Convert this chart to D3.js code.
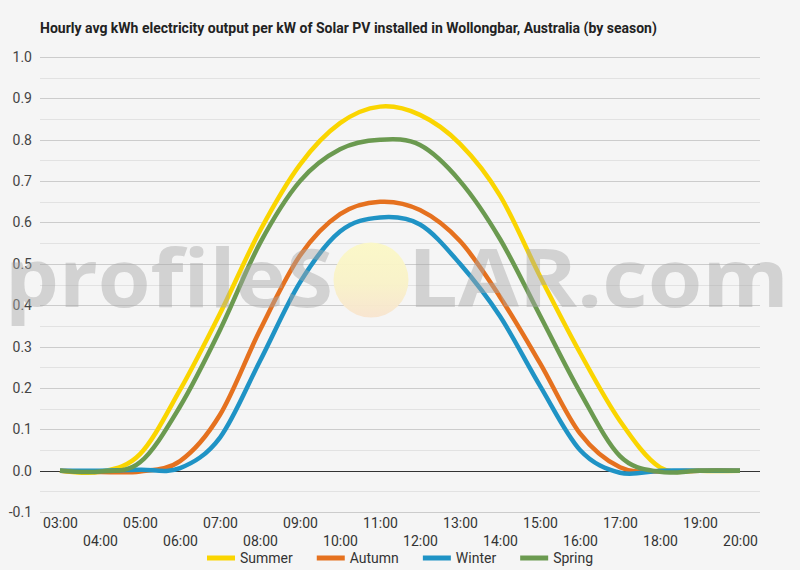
<!DOCTYPE html>
<html><head><meta charset="utf-8">
<script src="https://cdn.jsdelivr.net/npm/d3@7"></script>
<style>
body{margin:0;background:#f5f5f5;}
svg{display:block;font-family:Roboto,"Noto Sans",sans-serif;}
</style>
</head><body>
<svg id="chart" width="800" height="570"></svg>
<script>
const hours = ["03:00","04:00","05:00","06:00","07:00","08:00","09:00","10:00","11:00","12:00","13:00","14:00","15:00","16:00","17:00","18:00","19:00","20:00"];
const seriesNames = ["Summer","Autumn","Winter","Spring"];
const seriesColors = ["#FAD500","#E5711F","#1F93C5","#6B9A50"];
const summer = [0, -0.003, 0.04, 0.195, 0.38, 0.58, 0.74, 0.84, 0.88, 0.86, 0.79, 0.665, 0.47, 0.285, 0.12, 0.008, 0, 0];
const autumn = [0, -0.003, -0.002, 0.023, 0.135, 0.34, 0.52, 0.62, 0.65, 0.63, 0.555, 0.42, 0.26, 0.09, 0.008, -0.002, 0, 0];
const winter = [0, 0, 0.002, 0.006, 0.08, 0.265, 0.455, 0.578, 0.612, 0.595, 0.50, 0.373, 0.205, 0.05, -0.005, 0, 0, 0];
const spring = [0, -0.002, 0.02, 0.155, 0.34, 0.55, 0.70, 0.777, 0.80, 0.787, 0.70, 0.56, 0.375, 0.19, 0.035, -0.003, 0, 0];
const yTicks = [-0.1, 0, 0.1, 0.2, 0.3, 0.4, 0.5, 0.6, 0.7, 0.8, 0.9, 1.0];
const titleText = "Hourly avg kWh electricity output per kW of Solar PV installed in Wollongbar, Australia (by season)";

const seriesValues = [summer, autumn, winter, spring];

const svg = d3.select("#chart");
svg.append("rect").attr("width",800).attr("height",570).attr("fill","#f5f5f5");

const plotLeft = 40, plotRight = 760, plotTop = 57, plotBottom = 512;
const x = d3.scalePoint().domain(hours).range([plotLeft, plotRight]).padding(0.5);
const y = d3.scaleLinear().domain([-0.1, 1.0]).range([plotBottom, plotTop]);

// title
svg.append("text").attr("x", 40).attr("y", 33)
  .attr("font-size", 14).attr("font-weight", "bold").attr("fill", "#222")
  .text(titleText);

// minor gridlines
const minor = d3.range(-0.05, 1.0, 0.1);
svg.append("g").selectAll("line").data(minor).join("line")
  .attr("x1", plotLeft).attr("x2", plotRight)
  .attr("y1", d => Math.round(y(d)) + 0.5).attr("y2", d => Math.round(y(d)) + 0.5)
  .attr("stroke", "#e2e2e2").attr("stroke-width", 1);
// major gridlines
svg.append("g").selectAll("line").data(yTicks.filter(d => d !== 0)).join("line")
  .attr("x1", plotLeft).attr("x2", plotRight)
  .attr("y1", d => Math.round(y(d)) + 0.5).attr("y2", d => Math.round(y(d)) + 0.5)
  .attr("stroke", "#cccccc").attr("stroke-width", 1);

// y axis
const yAxis = svg.append("g").attr("transform", `translate(${plotLeft},0)`)
  .call(d3.axisLeft(y).tickValues(yTicks).tickFormat(d => d.toFixed(1)).tickSize(0).tickPadding(8));
yAxis.select(".domain").remove();
yAxis.selectAll("text").attr("font-size", 14).attr("fill", "#444").attr("font-family", "Roboto");

// x axis
const xAxis = svg.append("g").attr("transform", `translate(0,${plotBottom})`)
  .call(d3.axisBottom(x).tickSize(0));
xAxis.select(".domain").remove();
xAxis.selectAll("text")
  .attr("font-size", 14).attr("fill", "#333").attr("font-family", "Roboto")
  .attr("dy", 0)
  .attr("y", (d, i) => i % 2 === 0 ? 16 : 34);

// zero line
svg.append("line").attr("x1", plotLeft).attr("x2", plotRight)
  .attr("y1", Math.round(y(0)) + 0.5).attr("y2", Math.round(y(0)) + 0.5)
  .attr("stroke", "#333").attr("stroke-width", 1);

// lines
const line = d3.line()
  .x((d, i) => x(hours[i]))
  .y(d => y(d))
  .curve(d3.curveCardinal);
svg.append("g").selectAll("path").data(seriesValues).join("path")
  .attr("d", d => line(d))
  .attr("fill", "none")
  .attr("stroke", (d, i) => seriesColors[i])
  .attr("stroke-width", 4.5)
  .attr("stroke-linejoin", "round")
  .attr("stroke-linecap", "butt");

// watermark
const defs = svg.append("defs");
const grad = defs.append("linearGradient").attr("id", "sun").attr("x1", 0).attr("y1", 0).attr("x2", 0).attr("y2", 1);
grad.append("stop").attr("offset", "0%").attr("stop-color", "#fbf8c6");
grad.append("stop").attr("offset", "55%").attr("stop-color", "#f9f2c8");
grad.append("stop").attr("offset", "100%").attr("stop-color", "#f8e4cf");
const wm = svg.append("g");
wm.append("circle").attr("cx", 371).attr("cy", 280).attr("r", 37.5).attr("fill", "url(#sun)").attr("opacity", 0.95);
wm.append("text").attr("x", 5).attr("y", 307)
  .attr("font-family", "'Open Sans', sans-serif").attr("font-weight", 700).attr("font-size", 80)
  .attr("textLength", 328).attr("lengthAdjust", "spacingAndGlyphs")
  .attr("fill", "#a8a8a8").attr("opacity", 0.45).text("profileS");
wm.append("text").attr("x", 408).attr("y", 307)
  .attr("font-family", "'Open Sans', sans-serif").attr("font-weight", 700).attr("font-size", 80)
  .attr("textLength", 381).attr("lengthAdjust", "spacingAndGlyphs")
  .attr("fill", "#a8a8a8").attr("opacity", 0.45).text("LAR.com");

// legend
const legend = svg.append("g");
let cx = 0;
seriesNames.forEach((name, i) => {
  const g = legend.append("g");
  g.append("line").attr("x1", cx).attr("x2", cx + 28).attr("y1", 558).attr("y2", 558)
    .attr("stroke", seriesColors[i]).attr("stroke-width", 5);
  const t = g.append("text").attr("x", cx + 33).attr("y", 563)
    .attr("font-size", 14).attr("fill", "#333").attr("font-family", "Roboto").text(name);
  const w = t.node().getComputedTextLength();
  cx += 33 + w + 24;
});
const totalW = cx - 24;
legend.attr("transform", `translate(${Math.round(400 - totalW / 2)},0)`);
</script>
</body></html>
